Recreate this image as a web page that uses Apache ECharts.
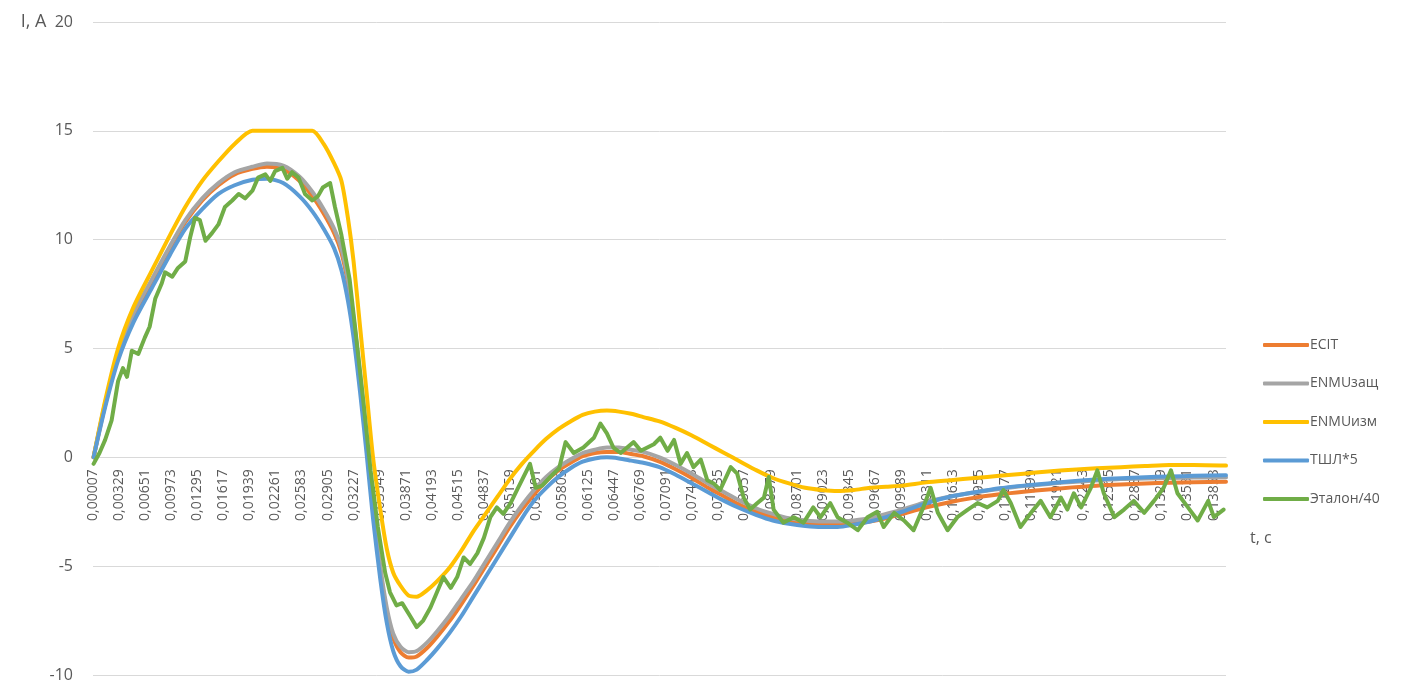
<!DOCTYPE html>
<html>
<head>
<meta charset="utf-8">
<script src="https://cdn.jsdelivr.net/npm/echarts@6/dist/echarts.min.js"></script>
<style>
html,body{margin:0;padding:0;background:#fff;}
#chart{width:1406px;height:684px;}
</style>
</head>
<body>
<div id="chart"></div>
<script>
// Tick labels of the time axis (every 46th sample)
const tickLabels = ['0,00007','0,00329','0,00651','0,00973','0,01295','0,01617','0,01939','0,02261','0,02583','0,02905',
  '0,03227','0,03549','0,03871','0,04193','0,04515','0,04837','0,05159','0,05481','0,05803','0,06125',
  '0,06447','0,06769','0,07091','0,07413','0,07735','0,08057','0,08379','0,08701','0,09023','0,09345',
  '0,09667','0,09989','0,10311','0,10633','0,10955','0,11277','0,11599','0,11921','0,12243','0,12565',
  '0,12887','0,13209','0,13531','0,13853'];
const seriesNames = ['ECIT','ENMUзащ','ENMUизм','ТШЛ*5','Эталон/40'];

// Time (s) of read points for smooth curves
const tSmooth = [0.00007,0.0015,0.0031,0.005,0.0073,0.0095,0.0114,0.0135,0.0155,0.0175,0.0197,0.0215,0.0235,0.0255,0.0271,0.0285,0.0298,0.0307,0.0315,0.0322,
  0.0330,0.0338,0.0346,0.0355,0.0363,0.0371,0.0380,0.0390,0.0400,0.0413,0.0425,0.0440,0.0455,0.0470,0.0485,0.0500,0.0515,0.0530,0.0545,0.0560,
  0.0575,0.0590,0.0605,0.0620,0.0635,0.0650,0.0665,0.0680,0.0700,0.0720,0.0740,0.0760,0.0780,0.0800,0.0820,0.0840,0.0860,0.0880,0.0900,0.0920,
  0.0940,0.0960,0.0980,0.1000,0.1030,0.1060,0.1090,0.1120,0.1150,0.1180,0.1210,0.1240,0.1270,0.1300,0.1330,0.1360,0.1400];

const ecit = [0,2.4,4.6,6.5,8.1,9.6,10.8,11.8,12.5,13.0,13.25,13.35,13.25,12.7,12.0,11.2,10.3,9.4,8.0,6.2,
  3.6,0.7,-2.4,-5.2,-7.1,-8.3,-8.95,-9.2,-9.15,-8.75,-8.25,-7.55,-6.75,-5.9,-5.0,-4.1,-3.2,-2.4,-1.7,-1.1,
  -0.6,-0.25,0.05,0.2,0.25,0.25,0.15,0.05,-0.2,-0.55,-0.95,-1.4,-1.8,-2.2,-2.5,-2.75,-2.95,-3.05,-3.1,-3.1,
  -3.05,-2.95,-2.8,-2.6,-2.3,-2.05,-1.85,-1.7,-1.58,-1.48,-1.38,-1.3,-1.25,-1.2,-1.17,-1.14,-1.12];

const enmuZasch = [0,2.5,4.7,6.6,8.2,9.7,10.9,11.9,12.6,13.1,13.35,13.5,13.4,12.9,12.2,11.4,10.5,9.6,8.2,6.4,
  3.8,0.9,-2.2,-5.0,-6.9,-8.1,-8.7,-8.95,-8.9,-8.5,-8.0,-7.3,-6.5,-5.7,-4.8,-3.9,-3.0,-2.2,-1.5,-0.9,
  -0.45,-0.1,0.2,0.35,0.45,0.45,0.35,0.25,0.0,-0.35,-0.75,-1.2,-1.6,-2.0,-2.35,-2.6,-2.8,-2.9,-2.95,-2.95,
  -2.9,-2.8,-2.6,-2.4,-2.05,-1.8,-1.6,-1.45,-1.32,-1.22,-1.13,-1.06,-1.0,-0.97,-0.95,-0.93,-0.92];

const enmuIzm = [0,2.6,5.0,6.9,8.6,10.2,11.5,12.7,13.6,14.4,15.0,15.0,15.0,15.0,15.0,14.4,13.5,12.7,11.0,9.0,
  6.0,3.0,0.0,-2.4,-4.2,-5.3,-5.9,-6.35,-6.4,-6.1,-5.7,-5.1,-4.3,-3.4,-2.6,-1.8,-1.0,-0.3,0.3,0.85,
  1.3,1.65,1.95,2.1,2.15,2.1,2.0,1.85,1.65,1.35,1.0,0.6,0.2,-0.2,-0.6,-0.95,-1.2,-1.4,-1.5,-1.55,
  -1.5,-1.4,-1.35,-1.3,-1.15,-1.05,-0.95,-0.85,-0.75,-0.65,-0.57,-0.5,-0.45,-0.4,-0.35,-0.35,-0.38];

const tshl = [0,2.3,4.45,6.2,7.8,9.3,10.5,11.4,12.1,12.5,12.75,12.8,12.6,12.0,11.3,10.5,9.6,8.6,7.2,5.5,
  3.0,0.2,-2.8,-5.6,-7.6,-8.9,-9.6,-9.85,-9.75,-9.3,-8.8,-8.1,-7.3,-6.4,-5.5,-4.6,-3.7,-2.8,-2.0,-1.4,
  -0.9,-0.5,-0.2,-0.05,0.0,-0.05,-0.15,-0.25,-0.45,-0.8,-1.2,-1.6,-2.0,-2.35,-2.65,-2.9,-3.05,-3.15,-3.2,-3.2,
  -3.1,-2.95,-2.75,-2.5,-2.1,-1.8,-1.6,-1.42,-1.3,-1.2,-1.1,-1.02,-0.96,-0.91,-0.88,-0.85,-0.82];

// Time (s) of read points for the reference (noisy) curve
const tEtalon = [0.00007,0.0008,0.0015,0.0023,0.0031,0.0037,0.0042,0.0048,0.0056,0.0064,0.0070,0.0077,0.0085,0.0089,0.0098,0.0105,0.0114,0.0120,0.0126,0.0132,
  0.0139,0.0147,0.0155,0.0163,0.0172,0.0180,0.0188,0.0197,0.0204,0.0213,0.0219,0.0225,0.0234,0.0240,0.0246,0.0254,0.0262,0.0271,0.0278,0.0284,
  0.0293,0.0299,0.0307,0.0317,0.0325,0.0334,0.0343,0.0352,0.0361,0.0367,0.0375,0.0382,0.0392,0.0400,0.0408,0.0417,0.0425,0.0433,0.0442,0.0450,
  0.0458,0.0466,0.0475,0.0483,0.0491,0.0499,0.0507,0.0516,0.0524,0.0532,0.0540,0.0547,0.0555,0.0565,0.0576,0.0584,0.0594,0.0606,0.0619,0.0627,
  0.0635,0.0643,0.0652,0.0660,0.0668,0.0677,0.0685,0.0693,0.0701,0.0710,0.0718,0.0726,0.0734,0.0742,0.0751,0.0759,0.0767,0.0775,0.0788,0.0796,
  0.0804,0.0812,0.0821,0.0829,0.0835,0.0841,0.0853,0.0866,0.0878,0.0890,0.0899,0.0911,0.0920,0.0932,0.0945,0.0957,0.0969,0.0977,0.0990,0.1002,
  0.1014,0.1026,0.1035,0.1044,0.1056,0.1068,0.1081,0.1093,0.1105,0.1118,0.1125,0.1134,0.1146,0.1159,0.1171,0.1183,0.1196,0.1204,0.1212,0.1221,
  0.1233,0.1241,0.1249,0.1262,0.1274,0.1286,0.1299,0.1311,0.1323,0.1332,0.1340,0.1353,0.1365,0.1378,0.1385,0.1397];
const etalon = [-0.3,0.2,0.8,1.7,3.5,4.1,3.7,4.9,4.75,5.5,6.0,7.3,8.0,8.5,8.3,8.7,9.0,10.1,11.0,10.9,
  9.95,10.3,10.7,11.5,11.8,12.1,11.9,12.25,12.85,13.0,12.7,13.15,13.3,12.8,13.1,12.85,12.1,11.8,12.0,12.4,
  12.6,11.5,10.2,8.2,5.6,2.6,-0.6,-3.2,-5.3,-6.2,-6.8,-6.7,-7.3,-7.8,-7.5,-6.9,-6.2,-5.5,-6.0,-5.5,
  -4.6,-4.9,-4.4,-3.7,-2.75,-2.3,-2.6,-2.1,-1.5,-0.9,-0.3,-1.4,-1.3,-0.9,-0.5,0.7,0.2,0.45,0.9,1.55,
  1.1,0.45,0.2,0.45,0.7,0.3,0.45,0.6,0.9,0.3,0.8,-0.3,0.2,-0.45,-0.1,-1.05,-1.2,-1.5,-0.45,-0.75,
  -1.85,-2.4,-2.1,-1.85,-0.9,-2.4,-3.0,-2.75,-3.0,-2.3,-2.75,-2.1,-2.75,-3.0,-3.35,-2.75,-2.5,-3.2,-2.55,-2.9,
  -3.35,-2.3,-1.4,-2.55,-3.35,-2.75,-2.4,-2.1,-2.3,-2.0,-1.5,-2.1,-3.2,-2.55,-2.0,-2.75,-1.85,-2.4,-1.65,-2.3,
  -1.4,-0.6,-1.65,-2.75,-2.4,-2.0,-2.55,-2.0,-1.4,-0.6,-1.65,-2.3,-2.9,-2.0,-2.75,-2.4];

const colors = ['#ED7D31','#A5A5A5','#FFC000','#5B9BD5','#70AD47'];
const TICK_STEP = 0.00322;

function zip(t, v){ return t.map((x,i)=>[x, v[i]]); }
const seriesData = [zip(tSmooth, ecit), zip(tSmooth, enmuZasch), zip(tSmooth, enmuIzm), zip(tSmooth, tshl), zip(tEtalon, etalon)];

const GRID_TOP = 22, GRID_BOTTOM = 9, H = 684;
const Y_MIN = -10, Y_MAX = 20;
// shift the x axis up to the value 0 of the y axis
const plotH = H - GRID_TOP - GRID_BOTTOM;
const zeroOffset = -plotH * (0 - Y_MIN) / (Y_MAX - Y_MIN);

const chart = echarts.init(document.getElementById('chart'), null, {renderer:'canvas'});
const txt = '#595959';
const fam = '"Open Sans", "Noto Sans", sans-serif';
chart.setOption({
  animation: false,
  backgroundColor: '#fff',
  color: colors,
  grid: {left: 93, right: 180, top: GRID_TOP, bottom: GRID_BOTTOM, containLabel: false, outerBoundsMode: 'none'},
  legend: {
    orient: 'vertical', left: 1258, top: 333, itemGap: 24.5,
    itemWidth: 46, itemHeight: 4, icon: 'roundRect',
    textStyle: {color: txt, fontSize: 14, fontFamily: fam, padding: [0,0,0,-4]},
    data: seriesNames
  },
  xAxis: {
    type: 'value', min: 0, max: 0.14, interval: TICK_STEP,
    position: 'bottom', offset: zeroOffset,
    axisLine: {onZero: false, lineStyle: {color: '#D9D9D9', width: 1}},
    axisTick: {show: false},
    splitLine: {show: false},
    axisLabel: {
      rotate: 90, margin: 12, color: txt, fontSize: 14, fontFamily: fam,
      showMaxLabel: false, hideOverlap: false,
      formatter: function(v){
        const i = Math.round(v / TICK_STEP);
        if (Math.abs(v - i * TICK_STEP) > 1e-6) return '';
        return tickLabels[i] || '';
      }
    }
  },
  yAxis: {
    type: 'value', min: Y_MIN, max: Y_MAX, interval: 5,
    axisLine: {show: false}, axisTick: {show: false},
    splitLine: {lineStyle: {color: '#D9D9D9', width: 1}},
    axisLabel: {
      color: txt, fontSize: 16, fontFamily: fam, margin: 20,
      formatter: function(v){ return v === 20 ? '{u|I, A}  20' : String(v); },
      rich: {u: {fontSize: 18, color: txt, fontFamily: fam}}
    }
  },
  graphic: [{
    type: 'text', left: 1250, top: 530,
    style: {text: 't, c', fill: txt, fontSize: 16, fontFamily: fam}
  }],
  series: seriesNames.map((n, i) => ({
    name: n, type: 'line', data: seriesData[i],
    showSymbol: false, symbol: 'none',
    lineStyle: {width: 4, color: colors[i], cap: 'round', join: 'round'},
    itemStyle: {color: colors[i]},
    smooth: i === 4 ? false : 0.25,
    z: 2 + i
  }))
});
</script>
</body>
</html>
